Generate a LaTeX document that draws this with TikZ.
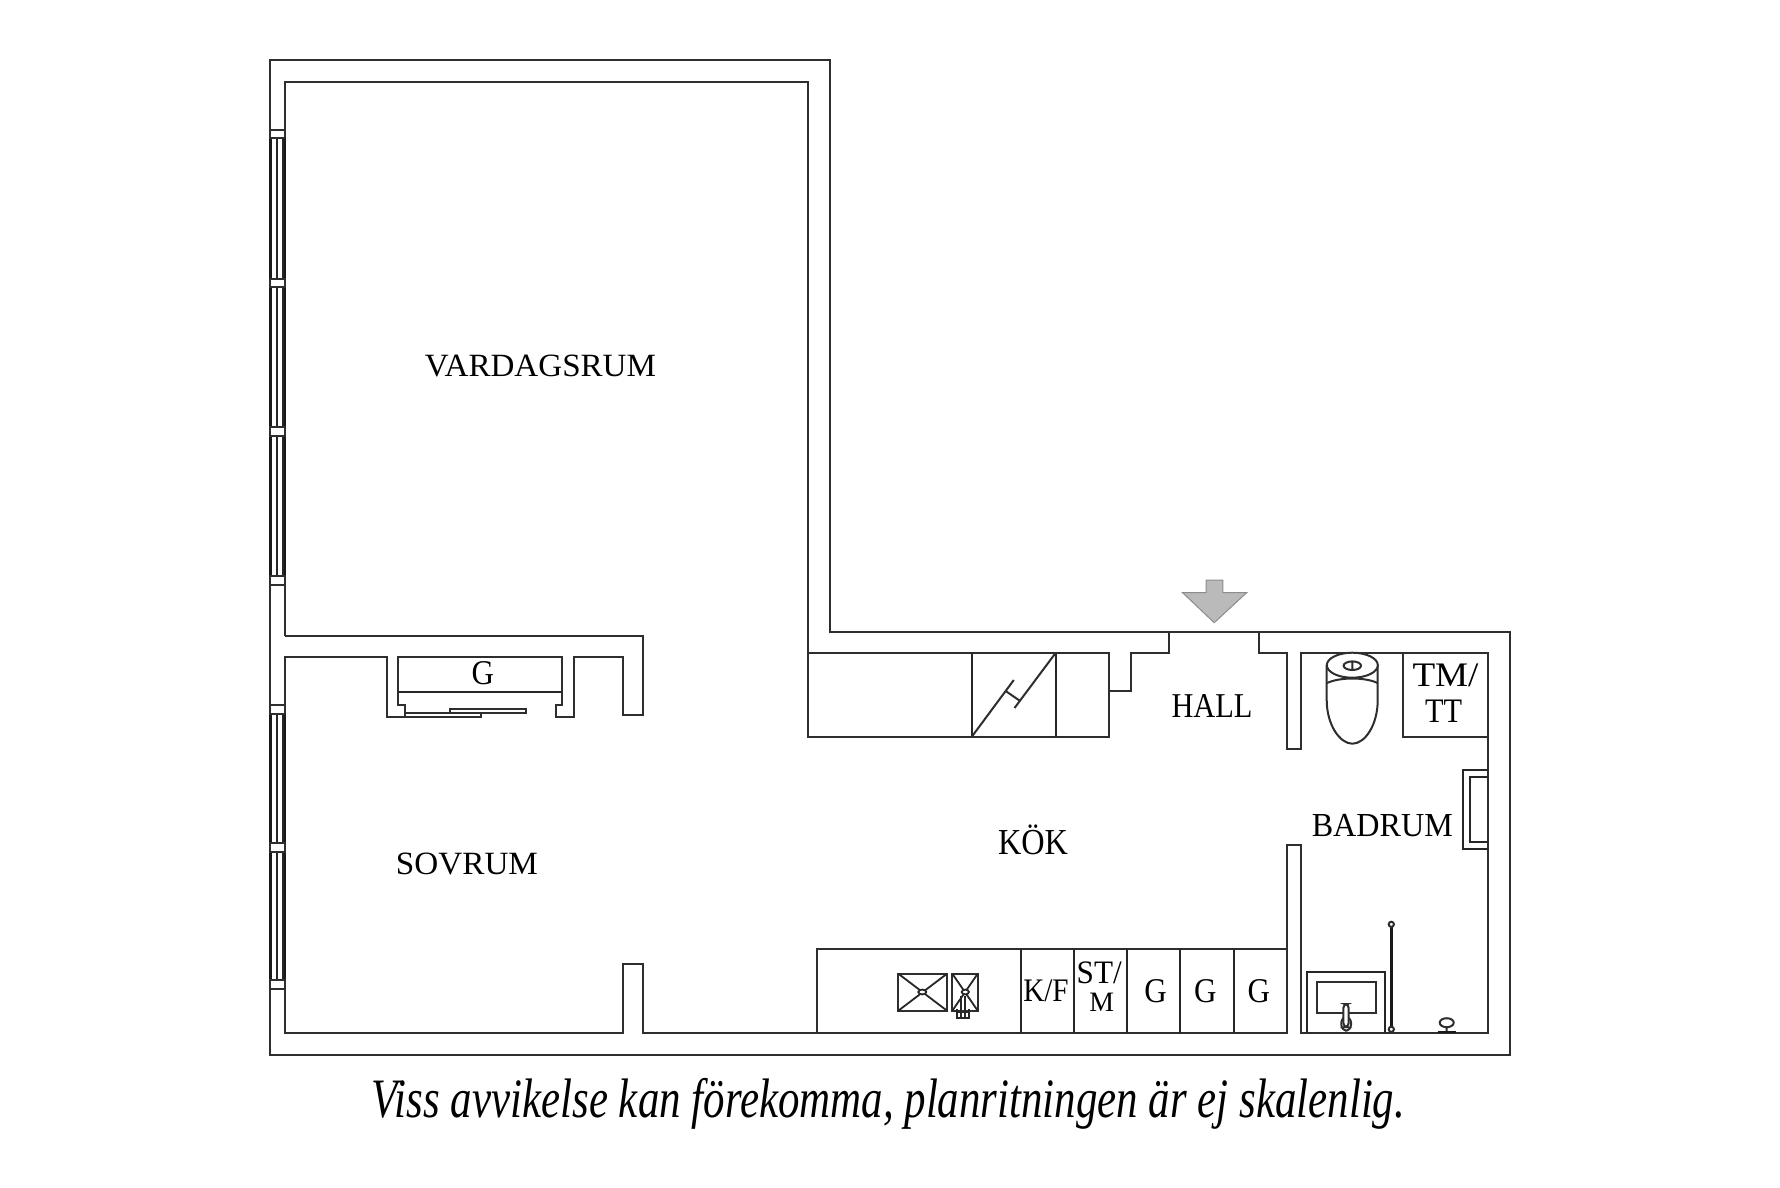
\documentclass[tikz,border=0pt]{standalone}
\usepackage{fontspec}
\usepackage{graphicx}
\setmainfont{Liberation Serif}
\newlength\pxu \setlength\pxu{0.5pt}
\newcommand{\lab}[6]{\node[txt] (#1) at (#2,#3) {\resizebox*{#4\pxu}{#5\pxu}{#6}};}
\tikzset{
  wall/.style={draw=black!82,line width=1pt,line join=miter},
  thin/.style={draw=black!85,line width=0.9pt},
  heavy/.style={draw=black!90,line width=1.3pt},
  txt/.style={inner sep=0pt,outer sep=0pt,text=black}
}
\begin{document}
\begin{tikzpicture}[x=0.5pt,y=-0.5pt]
\useasboundingbox (0,0) rectangle (1780,1187);
\fill[white] (0,0) rectangle (1780,1187);
% outer shell
\draw[wall] (269.5,60.3) -- (830,60.3) -- (830,632) -- (1509.5,632) -- (1509.5,1055) -- (269.5,1055) -- cycle;
% living room inner
\draw[wall] (284.5,636) -- (284.5,82.3) -- (807.8,82.3) -- (807.8,736.7) -- (1109.3,736.7) -- (1109.3,652.7) -- (807.8,652.7);
\draw[wall] (284.5,636) -- (642.7,636) -- (642.7,715) -- (622.7,715) -- (622.7,656.7) -- (573.7,656.7) -- (573.7,717) -- (556,717) -- (556,705) -- (562.3,705) -- (562.3,656.7) -- (398,656.7) -- (398,705) -- (404.7,705) -- (404.7,717) -- (386.7,717) -- (386.7,656.7) -- (284.5,656.7) -- (284.5,1033) -- (623,1033) -- (623,963.6) -- (642.7,963.6) -- (642.7,1033) -- (1287,1033) -- (1287,844.7) -- (1301,844.7) -- (1301,1033) -- (1487.7,1033) -- (1487.7,652.7) -- (1301,652.7) -- (1301,749.3) -- (1286.7,749.3) -- (1286.7,652.7) -- (1259,652.7) -- (1259,632);
\draw[wall] (1109.3,690.7) -- (1131,690.7) -- (1131,652.7) -- (1169,652.7) -- (1169,632);
% closet
\draw[thin] (398,691.7) -- (562.3,691.7);
\draw[wall] (404.7,713.3) rectangle (480.7,717);
\draw[wall] (450,708.7) rectangle (526,713);
% wardrobe in hall wall
\draw[thin] (971.8,652.7) -- (971.8,736.7) (1055.8,652.7) -- (1055.8,736.7);
\draw[wall] (971.8,736.7) -- (1013.8,680) (1055.8,652.7) -- (1014.5,708) (1005.2,690.7) -- (1019.7,700.7);
% windows
\foreach \a/\b in {130/583.5,705.3/988.5}{
  \draw[heavy] (270.5,\a) -- (270.5,\b) (284.5,\a) -- (284.5,\b);
  \draw[thin] (277,\a) -- (277,\b) (283,\a) -- (283,\b);
}
\foreach \a/\b in {130/138.5,279.3/287.5,427/435.5,575.7/584.5,705.3/714,842.7/851.5,980/988.5}{
  \draw[wall,fill=white] (270,\a) rectangle (284.5,\b);
}
% arrow
\draw[draw=black!45,fill=black!27,line width=0.5pt,line join=miter] (1206,580) -- (1222.9,580) -- (1222.9,592.7) -- (1246.6,592.7) -- (1214.2,622.7) -- (1182.6,592.7) -- (1206,592.7) -- cycle;
% toilet
\draw[wall] (1326.7,665) -- (1326.7,700) .. controls (1326.7,725) and (1340,743.7) .. (1352.3,743.7) .. controls (1365,743.7) and (1377.7,725) .. (1377.7,700) -- (1377.7,665);
\draw[wall,fill=white] (1352.3,665.2) ellipse (25.5 and 12.5);
\draw[wall] (1327,683) .. controls (1340,677) and (1365,677) .. (1377.5,683);
\draw[wall] (1352.3,665.7) ellipse (8.7 and 4.3) (1352.3,661.4) -- (1352.3,670);
% TM/TT box
\draw[wall] (1403.3,652.7) -- (1403.3,737) -- (1487.7,737);
% basin on the right wall
\draw[thin] (1487.7,769.7) -- (1463.3,769.7) -- (1463.3,848.7) -- (1487.7,848.7);
\draw[thin] (1487.7,776.7) -- (1470.3,776.7) -- (1470.3,841.7) -- (1487.7,841.7);
% kitchen counter
\draw[wall] (817.3,1033) -- (817.3,948.7) -- (1287,948.7);
\foreach \x in {1020.7,1074,1127.3,1180.3,1234}{\draw[thin] (\x,948.7) -- (\x,1033);}
% hob
\foreach \xa/\xb in {898.3/947,952.3/977.7}{
  \draw[wall] (\xa,973.7) rectangle (\xb,1010.7);
  \draw[thin] (\xa,973.7) -- (\xb,1010.7) (\xa,1010.7) -- (\xb,973.7);
}
\draw[thin,fill=white] (922.3,992) ellipse (4 and 2.4);
\draw[thin,fill=white] (965.3,992) ellipse (3.6 and 2.4);
\draw[thin] (957.3,1009) -- (957.3,1017.7) -- (968.7,1017.7) -- (968.7,1009) (961,1017.7) -- (961,996) (964.8,1017.7) -- (964.8,996) (957.3,1012.5) -- (968.7,1012.5);
% bath
\draw[thin] (1307.3,1033) -- (1307.3,972) -- (1385,972) -- (1385,1033);
\draw[wall] (1317,982) rectangle (1375.7,1013);
\draw[wall,rounded corners=3pt,fill=white] (1341.3,1030.7) rectangle (1351,1016.7);
\draw[wall,rounded corners=2pt,fill=white] (1343.3,1027) rectangle (1348.7,1004);
\draw[heavy] (1391.3,924.3) -- (1391.3,1029.3);
\draw[wall,fill=white] (1391.3,924.3) circle (2.6) (1391.3,1029.3) circle (2.6);
\draw[wall] (1446.7,1022.7) ellipse (7 and 4.5) (1446.7,1027) -- (1446.7,1032);
\draw[heavy] (1437.7,1032) -- (1455.7,1032);
% labels
\lab{vard}{540.5}{366}{231}{22}{VARDAGSRUM}
\lab{sov}{467}{864}{142}{22}{SOVRUM}
\lab{kok}{1033}{840}{70}{30}{KÖK}
\lab{hall}{1212}{705.5}{81}{23}{HALL}
\lab{bad}{1382.3}{825.5}{141}{22.5}{BADRUM}
\lab{tm}{1445.5}{675.5}{66}{23}{TM/}
\lab{tt}{1443.5}{711}{37}{22.5}{TT}
\lab{gc}{482.8}{673.3}{22.4}{23.3}{G}
\lab{kf}{1046}{990.8}{45.4}{22}{K/F}
\lab{st}{1099.2}{973.3}{45}{22}{ST/}
\lab{m}{1101.6}{1002.5}{24.7}{18.4}{M}
\lab{ga}{1155.5}{991.6}{22.4}{23.3}{G}
\lab{gb}{1205.3}{991.6}{22.4}{23.3}{G}
\lab{gd}{1258.8}{991.6}{22.4}{23.3}{G}
\lab{cap}{888.5}{1103.5}{1033}{51}{\itshape Viss avvikelse kan förekomma, planritningen är ej skalenlig.}
\end{tikzpicture}
\end{document}
